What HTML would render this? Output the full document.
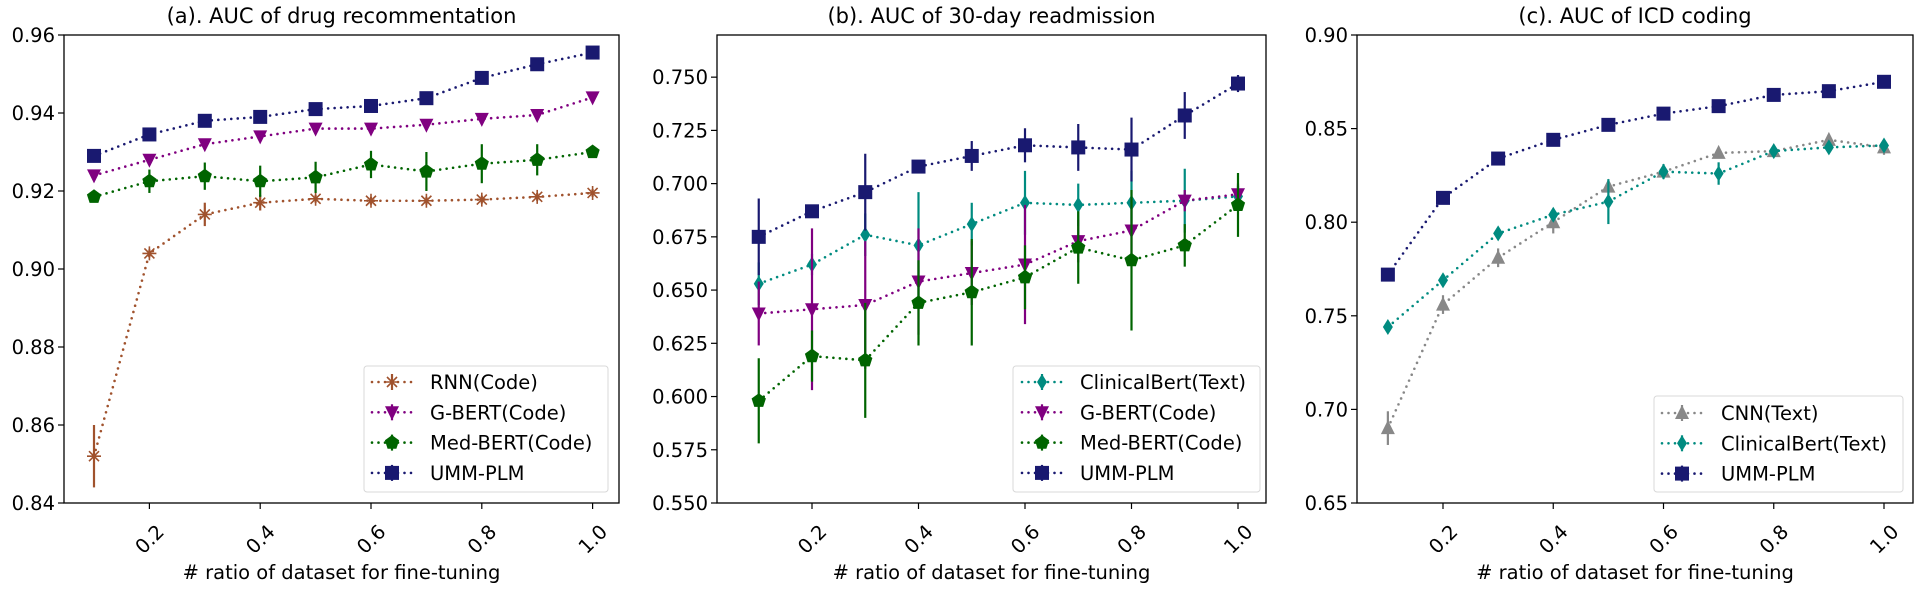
<!DOCTYPE html>
<html><head><meta charset="utf-8"><style>
html,body{margin:0;padding:0;background:#fff;}
svg{display:block;font-family:"DejaVu Sans","Liberation Sans",sans-serif;}
</style></head><body>
<svg id="fig" width="1918" height="589" viewBox="0 0 1918 589" xmlns="http://www.w3.org/2000/svg"></svg>
<script>
const xs = [0.1,0.2,0.3,0.4,0.5,0.6,0.7,0.8,0.9,1.0];
const xTickLabels = ["0.2","0.4","0.6","0.8","1.0"];
const xTickVals = [0.2,0.4,0.6,0.8,1.0];

// Panel a
const aTicks = [0.84,0.86,0.88,0.90,0.92,0.94,0.96];
const aTickLabels = ["0.84","0.86","0.88","0.90","0.92","0.94","0.96"];
const aRNN = [0.852,0.904,0.914,0.917,0.918,0.9175,0.9175,0.9178,0.9185,0.9195];
const aRNNErr = [0.008,0.001,0.003,0.002,0.001,0.001,0.001,0.001,0.001,0.001];
const aGBERT = [0.924,0.928,0.932,0.934,0.936,0.936,0.937,0.9385,0.9395,0.944];
const aGBERTErr = [0.001,0.001,0.001,0.001,0.001,0.001,0.001,0.001,0.001,0.001];
const aMed = [0.9185,0.9225,0.9238,0.9225,0.9235,0.9268,0.925,0.927,0.928,0.930];
const aMedErr = [0.001,0.003,0.0035,0.004,0.004,0.0035,0.005,0.005,0.004,0.001];
const aUMM = [0.929,0.9345,0.938,0.939,0.941,0.9418,0.9438,0.949,0.9525,0.9555];
const aUMMErr = [0.001,0.001,0.001,0.001,0.001,0.001,0.001,0.001,0.001,0.001];

// Panel b
const bTicks = [0.55,0.575,0.60,0.625,0.65,0.675,0.70,0.725,0.75];
const bTickLabels = ["0.550","0.575","0.600","0.625","0.650","0.675","0.700","0.725","0.750"];
const bClin = [0.653,0.662,0.676,0.671,0.681,0.691,0.690,0.691,0.692,0.694];
const bClinErr = [0.01,0.005,0.01,0.025,0.01,0.015,0.01,0.015,0.015,0.005];
const bGBERT = [0.639,0.641,0.643,0.654,0.658,0.662,0.673,0.678,0.692,0.695];
const bGBERTErr = [0.015,0.038,0.03,0.025,0.015,0.028,0.01,0.015,0.005,0.005];
const bMed = [0.598,0.619,0.617,0.644,0.649,0.656,0.670,0.664,0.671,0.690];
const bMedErr = [0.02,0.012,0.027,0.02,0.025,0.015,0.017,0.033,0.01,0.015];
const bUMM = [0.675,0.687,0.696,0.708,0.713,0.718,0.717,0.716,0.732,0.747];
const bUMMErr = [0.018,0.002,0.018,0.002,0.007,0.008,0.011,0.015,0.011,0.004];

// Panel c
const cTicks = [0.65,0.70,0.75,0.80,0.85,0.90];
const cTickLabels = ["0.65","0.70","0.75","0.80","0.85","0.90"];
const cCNN = [0.690,0.756,0.781,0.800,0.819,0.827,0.837,0.838,0.844,0.840];
const cCNNErr = [0.009,0.005,0.005,0.006,0.002,0.003,0.002,0.002,0.002,0.004];
const cClin = [0.744,0.769,0.794,0.804,0.811,0.827,0.826,0.838,0.840,0.841];
const cClinErr = [0.002,0.003,0.003,0.003,0.012,0.004,0.006,0.002,0.003,0.003];
const cUMM = [0.772,0.813,0.834,0.844,0.852,0.858,0.862,0.868,0.870,0.875];
const cUMMErr = [0.001,0.001,0.001,0.001,0.001,0.001,0.001,0.001,0.001,0.001];

const NS="http://www.w3.org/2000/svg";
const svg=document.getElementById('fig');
function mk(tag,attrs,parent){const e=document.createElementNS(NS,tag);for(const k in attrs)e.setAttribute(k,attrs[k]);(parent||svg).appendChild(e);return e;}

function marker(g,type,cx,cy,color){
  const s=7;
  if(type==='star'){
    mk('path',{d:`M${cx-s} ${cy}L${cx+s} ${cy}M${cx} ${cy-s}L${cx} ${cy+s}M${cx-5} ${cy-5}L${cx+5} ${cy+5}M${cx-5} ${cy+5}L${cx+5} ${cy-5}`,stroke:color,'stroke-width':1.6,fill:'none'},g);
  }else if(type==='tdown'){
    mk('polygon',{points:`${cx-7},${cy-6} ${cx+7},${cy-6} ${cx},${cy+8}`,fill:color},g);
  }else if(type==='tup'){
    mk('polygon',{points:`${cx-7},${cy+6} ${cx+7},${cy+6} ${cx},${cy-8}`,fill:color},g);
  }else if(type==='pent'){
    let p=[];for(let i=0;i<5;i++){const a=-Math.PI/2+i*2*Math.PI/5;p.push((cx+7.5*Math.cos(a)).toFixed(1)+','+(cy+7.5*Math.sin(a)).toFixed(1));}
    mk('polygon',{points:p.join(' '),fill:color},g);
  }else if(type==='sq'){
    mk('rect',{x:cx-7,y:cy-7,width:14,height:14,fill:color},g);
  }else if(type==='diam'){
    mk('polygon',{points:`${cx},${cy-8} ${cx+5},${cy} ${cx},${cy+8} ${cx-5},${cy}`,fill:color},g);
  }
}

const T=35, B=503;
function panel(cfg){
  const {L,R,ymin,ymax,x1,x2,title,ticks,tickLabels,series,legend,key}=cfg;
  const X=v=>x1+(v-0.2)*(x2-x1)/0.8;
  const Y=v=>B-(v-ymin)*(B-T)/(ymax-ymin);
  const g=mk('g',{});
  
  
  const t=mk('text',{x:(L+R)/2,y:23,'text-anchor':'middle','font-size':21,fill:'#000'},g);t.textContent=title;
  
  ticks.forEach((v,i)=>{
    mk('line',{x1:L-6,x2:L,y1:Y(v),y2:Y(v),stroke:'#000','stroke-width':1.2},g);
    const tt=mk('text',{x:L-9,y:Y(v)+7,'text-anchor':'end','font-size':19.5,fill:'#000'},g);tt.textContent=tickLabels[i];
    
  });
  xTickVals.forEach((v,i)=>{
    mk('line',{x1:X(v),x2:X(v),y1:B,y2:B+6,stroke:'#000','stroke-width':1.2},g);
    const cx=X(v), cy=B+36;
    const tt=mk('text',{x:cx,y:cy+7,'text-anchor':'middle','font-size':19.5,fill:'#000',transform:`rotate(-45 ${cx} ${cy})`},g);
    tt.textContent=xTickLabels[i];
    
  });
  const xl=mk('text',{x:(L+R)/2,y:579,'text-anchor':'middle','font-size':19.5,fill:'#000'},g);xl.textContent='# ratio of dataset for fine-tuning';
  
  series.forEach(s=>{
    const sg=mk('g',{},g);
    
    mk('polyline',{points:xs.map((x,i)=>X(x)+','+Y(s.v[i])).join(' '),fill:'none',stroke:s.c,'stroke-width':2.6,'stroke-dasharray':'0 6.5','stroke-linecap':'round'},sg);
    xs.forEach((x,i)=>{
      mk('line',{x1:X(x),x2:X(x),y1:Y(s.v[i]-s.e[i]),y2:Y(s.v[i]+s.e[i]),stroke:s.c,'stroke-width':2.2},sg);
    });
    xs.forEach((x,i)=>{marker(sg,s.m,X(x),Y(s.v[i]),s.c);});
  });
  mk('rect',{x:L,y:T,width:R-L,height:B-T,fill:'none',stroke:'#000','stroke-width':1.3},g);
  const lg=mk('g',{},g);
  
  mk('rect',{x:legend.x,y:legend.y,width:legend.w,height:legend.h,rx:3,fill:'#fff','fill-opacity':0.85,stroke:'#d8d8d8','stroke-width':1},lg);
  series.forEach((s,i)=>{
    const yy=legend.y0+i*30.3;
    const eg=mk('g',{},lg);
    
    mk('line',{x1:legend.mx-20,x2:legend.mx+20,y1:yy,y2:yy,stroke:s.c,'stroke-width':2.6,'stroke-dasharray':'0 6.5','stroke-linecap':'round'},eg);
    mk('line',{x1:legend.mx,x2:legend.mx,y1:yy-8,y2:yy+8,stroke:s.c,'stroke-width':2.2},eg);
    marker(eg,s.m,legend.mx,yy,s.c);
    const tx=mk('text',{x:legend.tx,y:yy+7,'font-size':19.5,fill:'#000'},eg);tx.textContent=s.label;
  });
}

panel({key:'drug',L:64,R:619,ymin:0.84,ymax:0.96,x1:149.4,x2:592.6,
  title:'(a). AUC of drug recommentation',ticks:aTicks,tickLabels:aTickLabels,
  series:[
    {name:'rnn-series',label:'RNN(Code)',v:aRNN,e:aRNNErr,c:'#a0522d',m:'star'},
    {name:'gbert-series',label:'G-BERT(Code)',v:aGBERT,e:aGBERTErr,c:'#800080',m:'tdown'},
    {name:'medbert-series',label:'Med-BERT(Code)',v:aMed,e:aMedErr,c:'#006400',m:'pent'},
    {name:'ummplm-series',label:'UMM-PLM',v:aUMM,e:aUMMErr,c:'#191970',m:'sq'}],
  legend:{x:364,y:366,w:244,h:126,y0:382,mx:392,tx:430}});

panel({key:'readmission',L:717,R:1266,ymin:0.55,ymax:0.7698,x1:812,x2:1238,
  title:'(b). AUC of 30-day readmission',ticks:bTicks,tickLabels:bTickLabels,
  series:[
    {name:'clinicalbert-series',label:'ClinicalBert(Text)',v:bClin,e:bClinErr,c:'#008b80',m:'diam'},
    {name:'gbert-series',label:'G-BERT(Code)',v:bGBERT,e:bGBERTErr,c:'#800080',m:'tdown'},
    {name:'medbert-series',label:'Med-BERT(Code)',v:bMed,e:bMedErr,c:'#006400',m:'pent'},
    {name:'ummplm-series',label:'UMM-PLM',v:bUMM,e:bUMMErr,c:'#191970',m:'sq'}],
  legend:{x:1013,y:366,w:247,h:126,y0:382,mx:1042,tx:1080}});

panel({key:'icd',L:1357,R:1913,ymin:0.65,ymax:0.90,x1:1443,x2:1884,
  title:'(c). AUC of ICD coding',ticks:cTicks,tickLabels:cTickLabels,
  series:[
    {name:'cnn-series',label:'CNN(Text)',v:cCNN,e:cCNNErr,c:'#888888',m:'tup'},
    {name:'clinicalbert-series',label:'ClinicalBert(Text)',v:cClin,e:cClinErr,c:'#008b80',m:'diam'},
    {name:'ummplm-series',label:'UMM-PLM',v:cUMM,e:cUMMErr,c:'#191970',m:'sq'}],
  legend:{x:1654,y:396,w:249,h:96,y0:413,mx:1682,tx:1721}});
</script>
</body></html>
